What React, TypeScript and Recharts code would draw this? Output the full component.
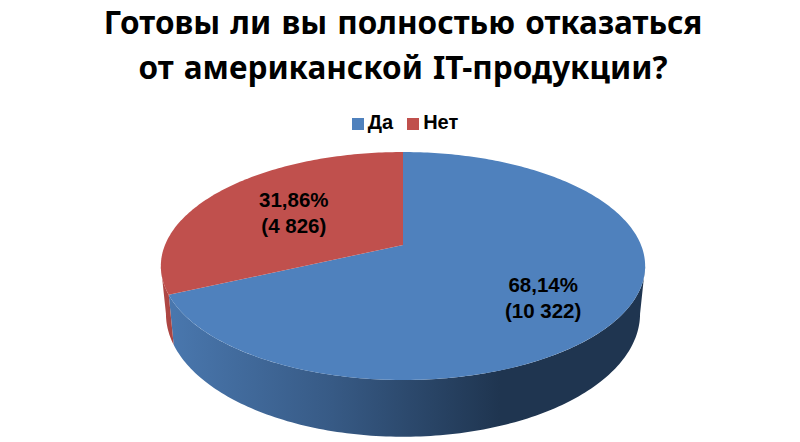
import React from 'react';
import { PieChart, Pie, Legend } from 'recharts';

const categories = ['Да', 'Нет'];
const counts = [10322, 4826];
const percentLabels = ['68,14%', '31,86%'];
const countLabels = ['(10 322)', '(4 826)'];
const colors = ['#4F81BD', '#C0504D'];
const titleLines = ['Готовы ли вы полностью отказаться', 'от американской IT-продукции?'];

const pieData = categories.map((name, i) => ({
  name,
  value: counts[i],
  fill: colors[i],
  percentLabel: percentLabels[i],
  countLabel: countLabels[i],
}));

const WIDTH = 800;
const HEIGHT = 442;
const RADIUS = 238;
const toRad = (d: number) => (d * Math.PI) / 180;

// perspective of the tilted disc: the back edge is closer to the centre than the front edge
const PERSPECTIVE = 0.1842;
const FLATTEN = 110.1 / 238;
const WALL_LEFT_RIGHT = 100.6; // where the side wall starts to show, degrees from 12 o'clock

const topPoint = (cx: number, cy: number, a: number, r: number) => {
  const s = (r / RADIUS) * Math.sin(toRad(a));
  const c = (r / RADIUS) * Math.cos(toRad(a));
  const w = 1 + PERSPECTIVE * c;
  return [cx + (RADIUS * s) / w, cy - (RADIUS * FLATTEN * c) / w];
};

const bottomPoint = (cx: number, cy: number, a: number, r: number) => {
  const p = topPoint(cx, cy, a, r);
  return [cx + 0.979 * (p[0] - cx), cy + 46 + 1.08 * (p[1] - cy)];
};

const arc = (pt: (a: number) => number[], from: number, to: number) => {
  const out: string[] = [];
  const steps = Math.max(2, Math.ceil(Math.abs(to - from)));
  for (let i = 0; i <= steps; i++) {
    const p = pt(from + ((to - from) * i) / steps);
    out.push(`${p[0].toFixed(2)} ${p[1].toFixed(2)}`);
  }
  return out;
};

const Slice3D = (props: any) => {
  const { cx, cy, outerRadius, startAngle, endAngle, fill, index } = props;
  const a0 = 90 - startAngle;
  const a1 = 90 - endAngle;
  const top = (a: number) => topPoint(cx, cy, a, outerRadius);
  const bottom = (a: number) => bottomPoint(cx, cy, a, outerRadius);
  const w0 = Math.max(a0, WALL_LEFT_RIGHT);
  const w1 = Math.min(a1, 360 - WALL_LEFT_RIGHT);
  const topD = `M${cx} ${cy} L${arc(top, a0, a1).join(' L')} Z`;
  const wallD =
    w1 > w0
      ? `M${arc(top, w0, w1).join(' L')} L${arc(bottom, w1, w0).join(' L')} Z`
      : null;
  return (
    <g>
      <defs>
        <linearGradient id="wall-0" gradientUnits="userSpaceOnUse" x1={165} y1={0} x2={500} y2={0}>
          <stop offset="0%" stopColor="#4A78AF" />
          <stop offset="50%" stopColor="#375A85" />
          <stop offset="100%" stopColor="#1F3550" />
        </linearGradient>
        <linearGradient id="wall-1" gradientUnits="userSpaceOnUse" x1={160} y1={0} x2={180} y2={0}>
          <stop offset="0%" stopColor="#B04A47" />
          <stop offset="100%" stopColor="#A8403D" />
        </linearGradient>
      </defs>
      {wallD && <path d={wallD} fill={`url(#wall-${index})`} />}
      <path d={topD} fill={fill} />
    </g>
  );
};

const SliceLabel = (props: any) => {
  const { cx, cy, midAngle, outerRadius, payload } = props;
  const big = payload.value > 10000;
  const p = topPoint(cx, cy, 90 - midAngle, outerRadius * (big ? 0.654 : 0.576));
  const y = p[1] + (big ? 11 : 0);
  return (
    <text
      x={p[0]}
      textAnchor="middle"
      fill="#000"
      style={{ fontFamily: '"Liberation Sans"', fontWeight: 700, fontSize: 20.5 }}
    >
      <tspan x={p[0]} y={y - 6}>{payload.percentLabel}</tspan>
      <tspan x={p[0]} y={y + 20}>{payload.countLabel}</tspan>
    </text>
  );
};

export default function App() {
  return (
    <div style={{ position: 'absolute', left: 0, top: 0, width: WIDTH, height: HEIGHT, background: '#fff', overflow: 'hidden' }}>
      {titleLines.map((line, i) => (
        <div
          key={line}
          style={{
            position: 'absolute',
            left: 6,
            width: WIDTH - 6,
            top: 4 + i * 45,
            textAlign: 'center',
            whiteSpace: 'nowrap',
            fontFamily: '"Noto Sans"',
            fontWeight: 700,
            fontSize: 31.5,
            wordSpacing: 2,
            lineHeight: '36px',
            color: '#000',
          }}
        >
          {line}
        </div>
      ))}
      <PieChart width={WIDTH} height={HEIGHT} margin={{ top: 0, right: 0, bottom: 0, left: 0 }} style={{ position: 'absolute', left: 0, top: 0 }}>
        <Legend
          verticalAlign="top"
          align="center"
          iconType="square"
          iconSize={12}
          wrapperStyle={{ top: 111, left: 12, fontFamily: '"Liberation Sans"', fontWeight: 700, fontSize: 20 }}
          formatter={(value: string) => <span style={{ color: '#000', marginRight: 4 }}>{value}</span>}
        />
        <Pie
          data={pieData}
          dataKey="value"
          nameKey="name"
          cx={403}
          cy={222}
          outerRadius={RADIUS}
          startAngle={90}
          endAngle={-270}
          stroke="none"
          shape={Slice3D}
          label={SliceLabel}
          labelLine={false}
          isAnimationActive={false}
        />
      </PieChart>
    </div>
  );
}
